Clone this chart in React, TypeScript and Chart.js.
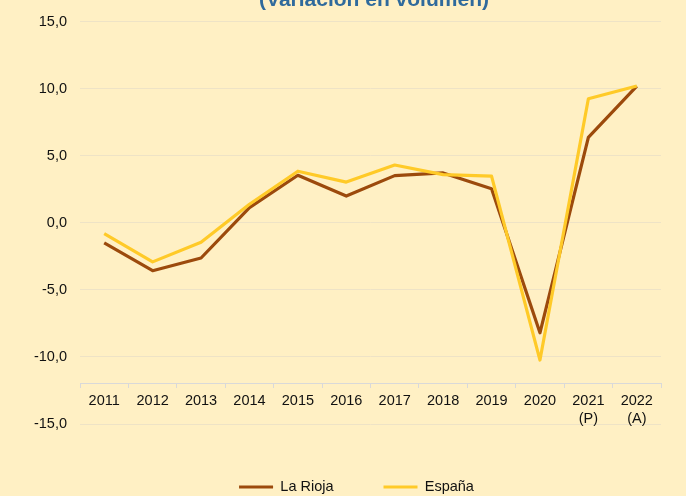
import React, { useEffect, useRef } from "react";
import { Chart, registerables } from "chart.js";

Chart.register(...registerables);

const titleText = "(Variación en volumen)";
const categories: (string | string[])[] = [
  "2011", "2012", "2013", "2014", "2015", "2016", "2017", "2018", "2019", "2020",
  ["2021", "(P)"], ["2022", "(A)"],
];
const laRioja = [-1.49, -3.57, -2.62, 1.14, 3.55, 2.0, 3.52, 3.72, 2.54, -8.2, 6.38, 10.2];
const espana = [-0.8, -2.91, -1.44, 1.39, 3.85, 3.04, 4.31, 3.6, 3.48, -10.23, 9.25, 10.2];
const yMin = -15;
const yMax = 15;
const yStep = 5;
const xAxisCross = -12;

const FONT = "'Liberation Sans', Arial, sans-serif";

export default function App() {
  const ref = useRef<HTMLCanvasElement | null>(null);

  useEffect(() => {
    if (!ref.current) return;
    const titlePlugin = {
      id: "cutTitle",
      afterLayout(chart: any) {
        if (chart.legend) {
          chart.legend.left = 52;
          chart.legend.top = 429.75;
        }
      },
      afterDraw(chart: any) {
        const ctx = chart.ctx;
        ctx.save();
        ctx.font = `bold 21px ${FONT}`;
        ctx.fillStyle = "#2F6A9C";
        ctx.textAlign = "center";
        ctx.textBaseline = "alphabetic";
        ctx.fillText(titleText, 374, 6);
        ctx.restore();
      },
    };
    const chart = new Chart(ref.current, {
      type: "line",
      data: {
        labels: categories as any,
        datasets: [
          {
            label: "La Rioja",
            data: laRioja,
            borderColor: "#9C4A0C",
            backgroundColor: "#9C4A0C",
            borderWidth: 3.2,
            pointRadius: 0,
            tension: 0,
            borderJoinStyle: "round",
            order: 1,
          },
          {
            label: "España",
            data: espana,
            borderColor: "#FFCA28",
            backgroundColor: "#FFCA28",
            borderWidth: 3.2,
            pointRadius: 0,
            tension: 0,
            borderJoinStyle: "round",
            order: 0,
          },
        ],
      },
      options: {
        responsive: false,
        animation: false,
        layout: { padding: { left: 0, right: 25, top: 17, bottom: -2.5 } },
        plugins: {
          tooltip: { enabled: false },
          title: { display: false },
          legend: {
            position: "bottom",
            labels: {
              usePointStyle: true,
              pointStyle: "line",
              pointStyleWidth: 34,
              padding: 50,
              color: "#111",
              font: { family: FONT, size: 14.5 },
              sort: (a: any, b: any) => a.datasetIndex - b.datasetIndex,
            },
          },
        },
        scales: {
          x: {
            type: "category",
            position: { y: xAxisCross } as any,
            offset: true,
            grid: {
              offset: true,
              drawOnChartArea: false,
              drawTicks: true,
              tickLength: 4,
              color: "#D9D9D9",
            },
            border: { display: true, color: "#D9D9D9", width: 1 },
            ticks: {
              color: "#111",
              font: { family: FONT, size: 14.5 },
              padding: 5,
              maxRotation: 0,
              autoSkip: false,
            },
          },
          y: {
            min: yMin,
            max: yMax,
            afterFit(scale: any) {
              scale.width = 80;
            },
            grid: {
              color: "#EEE3C6",
              drawTicks: false,
            },
            border: { display: false },
            ticks: {
              stepSize: yStep,
              padding: 13,
              color: "#111",
              font: { family: FONT, size: 14.5 },
              callback: (v: any) => Number(v).toFixed(1).replace(".", ","),
            },
          },
        },
      },
      plugins: [titlePlugin],
    });
    return () => chart.destroy();
  }, []);

  return (
    <div
      style={{
        position: "fixed",
        left: 0,
        top: 0,
        width: 686,
        height: 496,
        background: "#FFF0C4",
        overflow: "hidden",
      }}
    >
      <canvas ref={ref} width={686} height={496} style={{ display: "block" }} />
    </div>
  );
}
